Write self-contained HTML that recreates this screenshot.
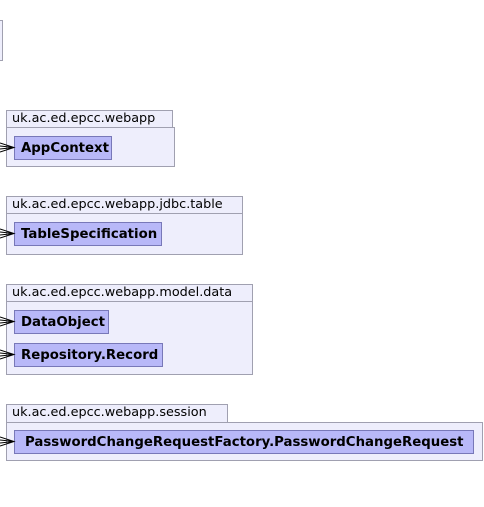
<!DOCTYPE html>
<html><head><style>
body{margin:0;width:484px;height:507px;background:#fff;position:relative;overflow:hidden;font-family:"DejaVu Sans","Liberation Sans",sans-serif;}
.b{position:absolute;box-sizing:border-box;}
.pk{background:#eeeefc;border:1px solid #a0a0b0;}
.tab{background:#eeeefc;border:1px solid #a0a0b0;font-size:12.8px;color:#000;padding-left:5px;line-height:16px;}
.cl{background:#b8b8f8;border:1px solid #7878b8;font-size:13.3px;font-weight:bold;color:#000;padding-left:6px;line-height:23px;}
svg{position:absolute;left:0;top:0;}
</style></head><body>
<div class="b pk" style="left:-10px;top:20px;width:13px;height:41px"></div>

<div class="b pk" style="left:6px;top:127px;width:169px;height:40px"></div>
<div class="b tab" style="left:6px;top:110px;width:167px;height:18px">uk.ac.ed.epcc.webapp</div>
<div class="b cl" style="left:14px;top:136px;width:98px;height:24px">AppContext</div>

<div class="b pk" style="left:6px;top:213px;width:237px;height:42px"></div>
<div class="b tab" style="left:6px;top:196px;width:237px;height:18px">uk.ac.ed.epcc.webapp.jdbc.table</div>
<div class="b cl" style="left:14px;top:222px;width:148px;height:24px">TableSpecification</div>

<div class="b pk" style="left:6px;top:301px;width:247px;height:74px"></div>
<div class="b tab" style="left:6px;top:284px;width:247px;height:18px">uk.ac.ed.epcc.webapp.model.data</div>
<div class="b cl" style="left:14px;top:310px;width:95px;height:24px">DataObject</div>
<div class="b cl" style="left:14px;top:343px;width:149px;height:24px">Repository.Record</div>

<div class="b pk" style="left:6px;top:422px;width:477px;height:39px"></div>
<div class="b tab" style="left:6px;top:404px;width:222px;height:19px">uk.ac.ed.epcc.webapp.session</div>
<div class="b cl" style="left:14px;top:430px;width:460px;height:24px;padding-left:10px">PasswordChangeRequestFactory.PasswordChangeRequest</div>

<svg width="484" height="507" fill="none" stroke="#000" stroke-width="1">
<path d="M0 143L14 147.5L0 152M0 146L14 147.5L0 149"/>
<path d="M0 229L14 233.5L0 238M0 232L14 233.5L0 235"/>
<path d="M0 317L14 321.5L0 326M0 320L14 321.5L0 323"/>
<path d="M0 350L14 354.5L0 359M0 353L14 354.5L0 356"/>
<path d="M0 437L14 441.5L0 446M0 440L14 441.5L0 443"/>
</svg>
</body></html>
